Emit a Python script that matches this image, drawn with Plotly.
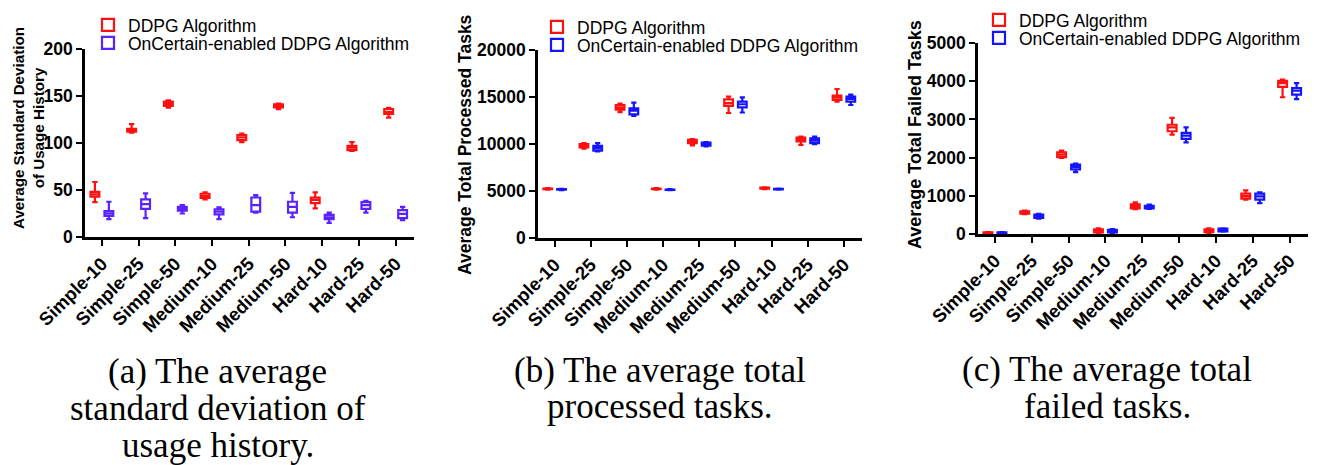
import plotly.graph_objects as go

W, H = 1327, 465

CATEGORIES = ["Simple-10", "Simple-25", "Simple-50", "Medium-10", "Medium-25",
              "Medium-50", "Hard-10", "Hard-25", "Hard-50"]
SERIES = ["DDPG Algorithm", "OnCertain-enabled DDPG Algorithm"]

# (a) average standard deviation of usage history
STD_DDPG_LO = [37, 111, 137.5, 40, 101, 136, 30.5, 91.5, 127]
STD_DDPG_Q1 = [43, 112, 139.5, 41.5, 103, 138, 36, 92.5, 131]
STD_DDPG_MED = [45.5, 113.5, 141.8, 43.6, 106, 139.4, 39.4, 95, 133]
STD_DDPG_Q3 = [48, 115, 144, 46, 108.5, 141, 42, 97, 136]
STD_DDPG_HI = [58.5, 120, 145.5, 47.5, 110, 142, 47.5, 101, 137.5]
STD_ONC_LO = [19, 20, 25, 19, 26, 21, 15, 26, 18]
STD_ONC_Q1 = [22.5, 30, 28, 24, 27, 26, 19, 30, 20]
STD_ONC_MED = [25, 35, 30, 27, 34, 32, 21, 34, 24.5]
STD_ONC_Q3 = [27.5, 40, 32, 29.5, 42, 37.5, 23.5, 37, 28.5]
STD_ONC_HI = [37.5, 46.5, 34, 31.5, 44.5, 47, 26, 38.5, 32]

# (b) average total processed tasks
PROC_DDPG_LO = [5150, 9500, 13400, 5150, 9850, 13300, 5200, 9900, 14500]
PROC_DDPG_Q1 = [5200, 9650, 13650, 5200, 10100, 14050, 5250, 10270, 14700]
PROC_DDPG_MED = [5230, 9840, 13900, 5230, 10260, 14350, 5300, 10500, 14950]
PROC_DDPG_Q3 = [5260, 9980, 14150, 5260, 10440, 14750, 5350, 10680, 15150]
PROC_DDPG_HI = [5300, 10100, 14300, 5300, 10520, 15050, 5400, 10800, 15850]
PROC_ONC_LO = [5100, 9200, 13000, 5080, 9750, 13350, 5150, 9980, 14150]
PROC_ONC_Q1 = [5140, 9300, 13150, 5110, 9820, 13900, 5170, 10100, 14500]
PROC_ONC_MED = [5170, 9570, 13550, 5130, 9980, 14230, 5200, 10350, 14800]
PROC_ONC_Q3 = [5200, 9800, 13800, 5160, 10150, 14500, 5230, 10600, 15050]
PROC_ONC_HI = [5230, 10100, 14400, 5190, 10200, 14950, 5260, 10800, 15250]

# (c) average total failed tasks
FAIL_DDPG_LO = [5, 520, 1990, 20, 650, 2600, 5, 900, 3580]
FAIL_DDPG_Q1 = [15, 535, 2010, 40, 670, 2690, 50, 925, 3850]
FAIL_DDPG_MED = [25, 565, 2080, 80, 725, 2790, 90, 990, 3950]
FAIL_DDPG_Q3 = [40, 590, 2140, 120, 775, 2860, 120, 1055, 4010]
FAIL_DDPG_HI = [50, 610, 2180, 150, 830, 3040, 150, 1140, 4040]
FAIL_ONC_LO = [10, 400, 1620, 20, 655, 2400, 60, 810, 3530]
FAIL_ONC_Q1 = [20, 420, 1690, 40, 670, 2490, 70, 900, 3650]
FAIL_ONC_MED = [30, 465, 1755, 70, 705, 2575, 110, 985, 3750]
FAIL_ONC_Q3 = [40, 505, 1815, 110, 740, 2645, 140, 1055, 3820]
FAIL_ONC_HI = [50, 525, 1840, 130, 770, 2790, 150, 1090, 3950]

Y_TITLES = ["Average Standard Deviation<br>of Usage History",
            "Average Total Processed Tasks",
            "Average Total Failed Tasks"]
Y_TICKS = [[0, 50, 100, 150, 200],
           [0, 5000, 10000, 15000, 20000],
           [0, 1000, 2000, 3000, 4000, 5000]]
CAPTIONS = [["(a) The average", "standard deviation of", "usage history."],
            ["(b) The average total", "processed tasks."],
            ["(c) The average total", "failed tasks."]]

RED = "#FF1010"
BLUES = ["#5A22FF", "#1414FF", "#1414FF"]

panels = [
    dict(ddpg=(STD_DDPG_LO, STD_DDPG_Q1, STD_DDPG_MED, STD_DDPG_Q3, STD_DDPG_HI),
         onc=(STD_ONC_LO, STD_ONC_Q1, STD_ONC_MED, STD_ONC_Q3, STD_ONC_HI),
         px=(85, 414), py=(237, 49), yr=200,
         title_xy=(28, 128), title_size=15.2, cap_x=218, cap_y=[371, 408, 445],
         leg_x=109, leg_rows=(25, 43)),
    dict(ddpg=(PROC_DDPG_LO, PROC_DDPG_Q1, PROC_DDPG_MED, PROC_DDPG_Q3, PROC_DDPG_HI),
         onc=(PROC_ONC_LO, PROC_ONC_Q1, PROC_ONC_MED, PROC_ONC_Q3, PROC_ONC_HI),
         px=(538, 862), py=(238, 50), yr=20000,
         title_xy=(465, 145), title_size=17.5, cap_x=660, cap_y=[370, 406],
         leg_x=558, leg_rows=(27, 45)),
    dict(ddpg=(FAIL_DDPG_LO, FAIL_DDPG_Q1, FAIL_DDPG_MED, FAIL_DDPG_Q3, FAIL_DDPG_HI),
         onc=(FAIL_ONC_LO, FAIL_ONC_Q1, FAIL_ONC_MED, FAIL_ONC_Q3, FAIL_ONC_HI),
         px=(978, 1308), py=(234, 43), yr=5000,
         title_xy=(915, 135), title_size=18, cap_x=1107, cap_y=[369, 406],
         leg_x=1000, leg_rows=(20, 38)),
]

OFFSET = 0.19
BOX_W = 0.24
POS = list(range(len(CATEGORIES)))
SANS = "Liberation Sans, Arial"

fig = go.Figure()
layout = {}
annotations = []
leg_idx = 0
for k, p in enumerate(panels):
    s = "" if k == 0 else str(k + 1)
    for j, (stats, color, shift) in enumerate(
            [(p["ddpg"], RED, -OFFSET), (p["onc"], BLUES[k], OFFSET)]):
        leg_idx += 1
        legname = "legend" if leg_idx == 1 else f"legend{leg_idx}"
        lo, q1, med, q3, hi = stats
        fig.add_trace(go.Box(
            x=[i + shift for i in POS], lowerfence=lo, q1=q1, median=med, q3=q3,
            upperfence=hi, name=SERIES[j], width=BOX_W, whiskerwidth=0.6,
            line=dict(color=color, width=2.2), fillcolor="white",
            boxpoints=False, xaxis="x" + s, yaxis="y" + s, legend=legname,
            hoverinfo="skip"))
        layout[legname] = dict(
            x=(p["leg_x"] - 21) / W, y=1 - p["leg_rows"][j] / H,
            xanchor="left", yanchor="middle",
            bgcolor="rgba(0,0,0,0)", borderwidth=0,
            font=dict(family=SANS, size=17.5, color="black"))
    x0, x1 = p["px"]
    yb, yt = p["py"]
    layout["xaxis" + s] = dict(
        domain=[x0 / W, x1 / W], anchor="y" + s, range=[-0.46, 8.5],
        tickmode="array", tickvals=POS, ticktext=CATEGORIES, tickangle=-45,
        showline=True, linecolor="black", linewidth=2.5, ticks="outside",
        ticklen=6, tickwidth=2, tickcolor="black", showgrid=False, zeroline=False,
        tickfont=dict(family=SANS, size=18.5, color="black", weight="bold"))
    layout["yaxis" + s] = dict(
        domain=[1 - yb / H, 1 - yt / H], anchor="x" + s, range=[0, p["yr"]],
        tickmode="array", tickvals=Y_TICKS[k], ticktext=[str(v) for v in Y_TICKS[k]],
        showline=True, linecolor="black", linewidth=2.5, ticks="outside",
        ticklen=6, tickwidth=2, tickcolor="black", showgrid=False, zeroline=False,
        tickfont=dict(family=SANS, size=17.5, color="black", weight="bold"))
    tx, ty = p["title_xy"]
    annotations.append(dict(
        text=Y_TITLES[k], x=tx / W, y=1 - ty / H, xref="paper", yref="paper",
        textangle=-90, showarrow=False, xanchor="center", yanchor="middle",
        font=dict(family=SANS, size=p["title_size"], color="black", weight="bold")))
    for line, cy in zip(CAPTIONS[k], p["cap_y"]):
        annotations.append(dict(
            text=line, x=p["cap_x"] / W, y=1 - cy / H, xref="paper", yref="paper",
            showarrow=False, xanchor="center", yanchor="middle",
            font=dict(family="Liberation Serif, Times New Roman", size=35,
                      color="black")))

fig.update_layout(
    width=W, height=H, margin=dict(l=0, r=0, t=0, b=0, autoexpand=False),
    paper_bgcolor="white", plot_bgcolor="white", showlegend=True,
    annotations=annotations, **layout)

fig.write_html("out.html")
